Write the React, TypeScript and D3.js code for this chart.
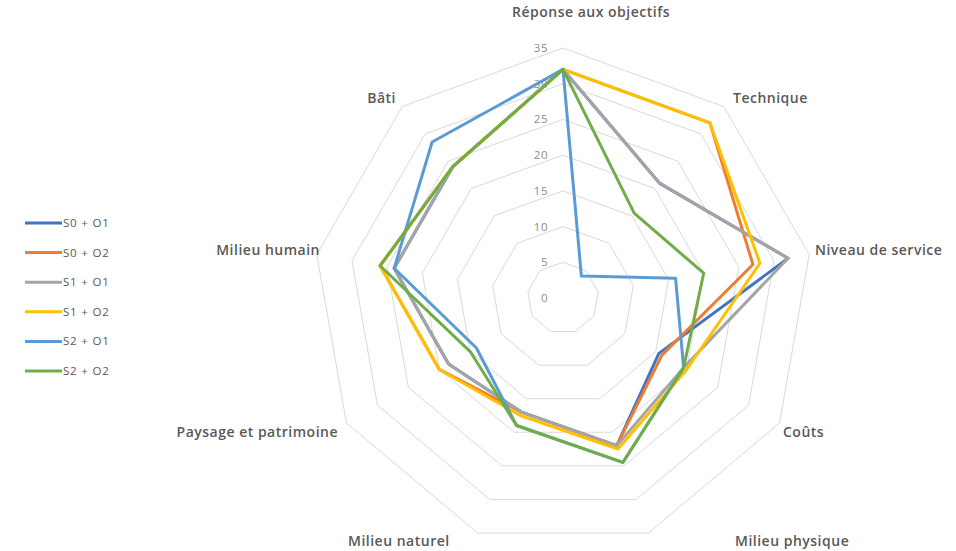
/* eslint-disable */
import React, { useEffect, useRef } from 'react';
import * as d3 from 'd3';

// axes, clockwise from the top
const categories = [
  'Réponse aux objectifs',
  'Technique',
  'Niveau de service',
  'Coûts',
  'Milieu physique',
  'Milieu naturel',
  'Paysage et patrimoine',
  'Milieu humain',
  'Bâti',
];

const seriesNames = ['S0 + O1', 'S0 + O2', 'S1 + O1', 'S1 + O2', 'S2 + O1', 'S2 + O2'];

const s0o1 = [32, 21, 32, 15.5, 22, 17, 18.5, 24, 24];
const s0o2 = [32, 32, 27, 16, 22, 17, 20, 26, 24];
const s1o1 = [32, 21, 32, 19.5, 22, 17, 18.5, 24, 24];
const s1o2 = [32, 32, 28, 20, 22.5, 17.5, 20, 26, 24];
const s2o1 = [32, 4, 16, 19.5, 24.5, 19, 14, 24, 28.5];
const s2o2 = [32, 15.5, 20, 19.5, 24.5, 19, 15, 26, 24];

const ticks = [0, 5, 10, 15, 20, 25, 30, 35];

const colors = ['#4472C4', '#ED7D31', '#A5A5A5', '#FFC000', '#5B9BD5', '#70AD47'];

// where Excel put the category labels
const labelLayout = [
  { x: 591, y: 17, anchor: 'middle' },
  { x: 733, y: 103, anchor: 'start' },
  { x: 815, y: 255, anchor: 'start' },
  { x: 783, y: 437, anchor: 'start' },
  { x: 735, y: 546, anchor: 'start' },
  { x: 348, y: 546, anchor: 'start' },
  { x: 338, y: 437, anchor: 'end' },
  { x: 320, y: 255, anchor: 'end' },
  { x: 396, y: 103, anchor: 'end' },
];

const W = 956;
const H = 551;
const cx = 563;
const cy = 298;
const R = 250;
const FONT = '"Open Sans", "Noto Sans", sans-serif';

export default function App() {
  const ref = useRef<SVGSVGElement>(null);

  useEffect(() => {
    if (!ref.current) return;
    const svg = d3.select(ref.current);
    svg.selectAll('*').remove();

    const allSeries = [s0o1, s0o2, s1o1, s1o2, s2o1, s2o2];

    const r = d3.scaleLinear().domain([0, 35]).range([0, R]);
    const angle = d3
      .scalePoint<string>()
      .domain(categories)
      .range([0, (2 * Math.PI * (categories.length - 1)) / categories.length]);

    const g = svg.append('g').attr('transform', `translate(${cx},${cy})`);

    // ------- grid rings -------
    const ring = d3
      .lineRadial<string>()
      .angle((d) => angle(d)!)
      .curve(d3.curveLinearClosed);

    ticks
      .filter((t) => t > 0)
      .forEach((t) => {
        g.append('path')
          .attr('d', ring.radius(() => r(t))(categories))
          .attr('fill', 'none')
          .attr('stroke', '#D9D9D9')
          .attr('stroke-width', 1);
      });

    // ------- tick labels -------
    g.selectAll('text.tick')
      .data(ticks)
      .enter()
      .append('text')
      .attr('class', 'tick')
      .attr('x', -15)
      .attr('y', (d) => -r(d))
      .attr('dy', '0.35em')
      .attr('text-anchor', 'end')
      .attr('font-family', FONT)
      .attr('font-size', 11.5)
      .attr('letter-spacing', 0.5)
      .attr('fill', '#8C8C8C')
      .text((d) => d);

    // ------- series -------
    const line = d3
      .lineRadial<number>()
      .angle((_, i) => angle(categories[i])!)
      .radius((d) => r(d))
      .curve(d3.curveLinearClosed);

    allSeries.forEach((vals, i) => {
      g.append('path')
        .attr('d', line(vals))
        .attr('fill', 'none')
        .attr('stroke', colors[i])
        .attr('stroke-width', 3)
        .attr('stroke-linejoin', 'round');
    });

    // ------- category labels -------
    svg
      .selectAll('text.cat')
      .data(categories)
      .enter()
      .append('text')
      .attr('class', 'cat')
      .attr('x', (_, i) => labelLayout[i].x)
      .attr('y', (_, i) => labelLayout[i].y)
      .attr('text-anchor', (_, i) => labelLayout[i].anchor)
      .attr('font-family', FONT)
      .attr('font-size', 14)
      .attr('letter-spacing', 0.5)
      .attr('font-weight', 600)
      .attr('fill', '#595959')
      .text((d) => d);

    // ------- legend -------
    const legend = svg.append('g').attr('transform', 'translate(25,223)');
    seriesNames.forEach((name, i) => {
      const y = i * 29.6;
      legend
        .append('line')
        .attr('x1', 0)
        .attr('x2', 37)
        .attr('y1', y)
        .attr('y2', y)
        .attr('stroke', colors[i])
        .attr('stroke-width', 3);
      legend
        .append('text')
        .attr('x', 38)
        .attr('y', y)
        .attr('dy', '0.35em')
        .attr('font-family', FONT)
        .attr('font-size', 11.5)
        .attr('letter-spacing', 0.8)
        .attr('fill', '#595959')
        .text(name);
    });
  }, []);

  return (
    <svg
      ref={ref}
      width={W}
      height={H}
      style={{ position: 'absolute', left: 0, top: 0, background: '#fff' }}
    />
  );
}
